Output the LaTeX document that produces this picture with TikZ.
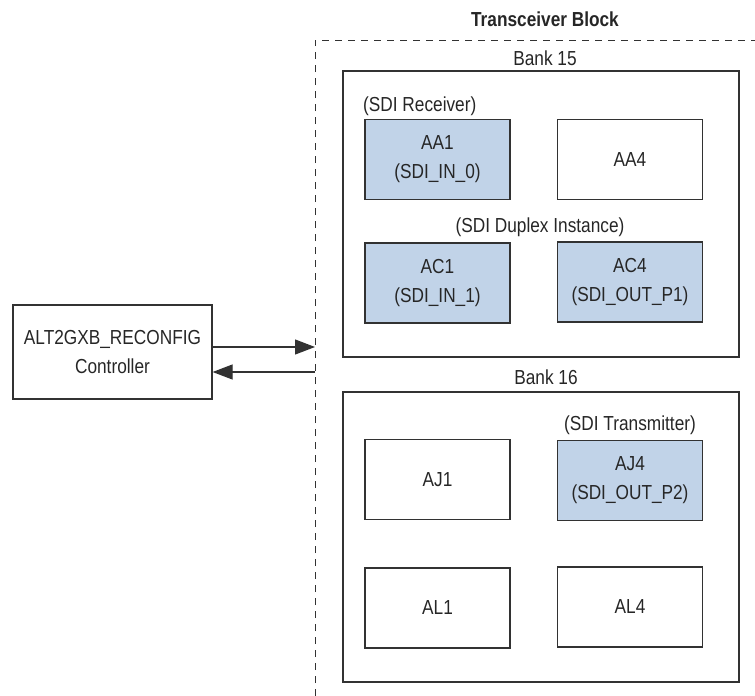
\documentclass[tikz,border=0pt]{standalone}
\usepackage{fontspec}
\setmainfont{Liberation Sans}[FakeStretch=0.85]
\usetikzlibrary{arrows.meta}
\definecolor{chanfill}{RGB}{193,211,232}
\definecolor{edge}{RGB}{50,50,50}
\begin{document}
\begin{tikzpicture}[x=1pt,y=-1pt,
  every node/.style={font=\fontsize{20.3}{29}\selectfont, text=black!85},
  chan/.style={draw=edge, line width=1.2pt, minimum width=145pt, minimum height=80pt, inner sep=0pt, align=center},
  used/.style={chan, fill=chanfill},
  bank/.style={draw=edge, line width=1.2pt, minimum width=396pt, inner sep=0pt},
  ctrlbox/.style={draw=edge, line width=1.2pt, minimum width=199pt, minimum height=94pt, inner sep=0pt, align=center},
  lbl/.style={inner sep=0pt},
  link/.style={draw=edge, line width=1.2pt, -{Triangle[length=20pt,width=15pt]}},
  boundary/.style={draw=edge, line width=1pt, dash pattern=on 7pt off 6pt}
]
\useasboundingbox (0,0) rectangle (755,696);

% transceiver block boundary
\coordinate (bb) at (315,696);
\coordinate (bc) at (315,40);
\coordinate (br) at (755,40);
\draw[boundary] (bb) -- (bc) -- (br);
\node[lbl, font=\fontsize{20.3}{29}\selectfont\bfseries] (title) at (545,19) {Transceiver Block};

% banks
\node[bank, minimum height=286pt] (b15) at (541,214) {};
\node[bank, minimum height=290pt] (b16) at (541,537) {};
\node[lbl] (b15l) at (545,58) {Bank 15};
\node[lbl] (b16l) at (546,377) {Bank 16};

% bank 15 channels
\node[lbl, anchor=west] (rxl) at (363,106) {(SDI Receiver)};
\node[used] (aa1) at (437.5,159.5) {AA1\\(SDI\_IN\_0)};
\node[chan] (aa4) at (630,159.5) {AA4};
\node[lbl] (dxl) at (540,227) {(SDI Duplex Instance)};
\node[used] (ac1) at (437.5,283) {AC1\\(SDI\_IN\_1)};
\node[used] (ac4) at (630,282) {AC4\\(SDI\_OUT\_P1)};

% bank 16 channels
\node[lbl] (txl) at (630,425) {(SDI Transmitter)};
\node[chan] (aj1) at (437.5,479.5) {AJ1};
\node[used] (aj4) at (630,480.5) {AJ4\\(SDI\_OUT\_P2)};
\node[chan] (al1) at (437.5,608) {AL1};
\node[chan] (al4) at (630,607) {AL4};

% reconfiguration controller and its links
\node[ctrlbox] (ctrl) at (112.5,352) {ALT2GXB\_RECONFIG\\Controller};
\coordinate (inA) at (315,347);
\coordinate (inB) at (315,372);
\draw[link] (ctrl.east |- inA) -- (inA);
\draw[link] (inB) -- (ctrl.east |- inB);
\end{tikzpicture}
\end{document}
